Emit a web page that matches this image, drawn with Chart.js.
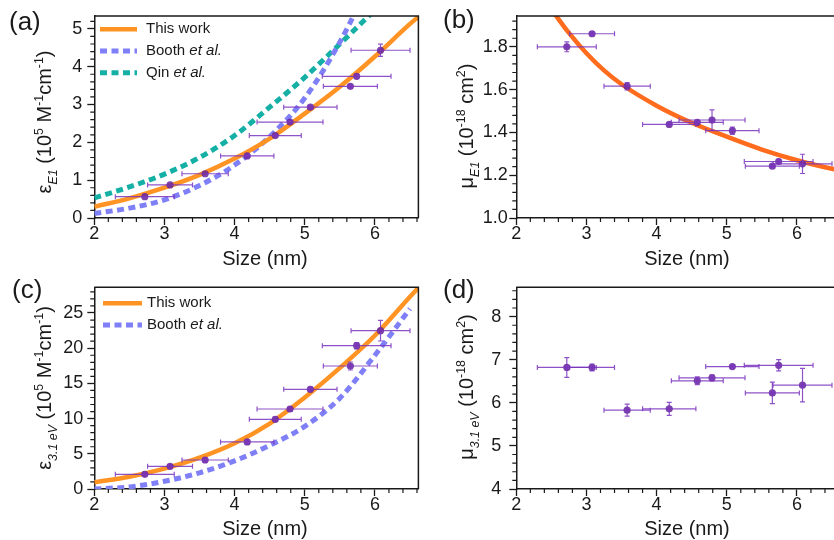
<!DOCTYPE html>
<html>
<head>
<meta charset="utf-8">
<script src="https://cdn.jsdelivr.net/npm/chart.js@4.4.1/dist/chart.umd.min.js"></script>
<style>
  html, body { margin: 0; padding: 0; background: #fff; overflow: hidden; }
  #wrap { position: relative; width: 834px; height: 540px; overflow: hidden; }
  #wrap canvas { position: absolute; }
</style>
</head>
<body>
<div id="wrap">
  <canvas id="cA" width="422" height="270" style="left:0;top:0"></canvas>
  <canvas id="cB" width="422" height="270" style="left:422px;top:0"></canvas>
  <canvas id="cC" width="422" height="270" style="left:0;top:270px"></canvas>
  <canvas id="cD" width="422" height="270" style="left:422px;top:270px"></canvas>
</div>
<script>
// ---- datos medidos (tamaño en nm, barras de error) ----
const sizeNm  = [2.72, 3.08, 3.58, 4.18, 4.58, 4.79, 5.08, 5.65, 5.74, 6.08];
const sizeErr = [0.42, 0.32, 0.33, 0.38, 0.37, 0.47, 0.38, 0.385, 0.49, 0.42];

const epsE1    = [0.565, 0.875, 1.17, 1.64, 2.18, 2.535, 2.93, 3.48, 3.745, 4.435];
const epsE1Err = [0.02, 0.02, 0.02, 0.03, 0.03, 0.03, 0.04, 0.04, 0.05, 0.16];
const muE1     = [1.80, 1.861, 1.616, 1.4375, 1.447, 1.458, 1.408, 1.242, 1.264, 1.253];
const muE1Err  = [0.023, 0.008, 0.017, 0.005, 0.008, 0.047, 0.017, 0.005, 0.01, 0.045];
const eps31    = [2.08, 3.22, 4.12, 6.68, 9.9, 11.36, 14.16, 17.47, 20.36, 22.49];
const eps31Err = [0.25, 0.25, 0.3, 0.3, 0.3, 0.3, 0.3, 0.57, 0.45, 1.47];
const mu31     = [6.82, 6.82, 5.83, 5.86, 6.51, 6.58, 6.84, 6.23, 6.87, 6.41];
const mu31Err  = [0.23, 0.08, 0.14, 0.15, 0.09, 0.07, 0.03, 0.25, 0.13, 0.39];

// ---- curvas ----
const fitE1X   = [2, 2.5, 3, 3.5, 4, 4.5, 5, 5.5, 6, 6.5, 6.62];
const fitE1Y   = [0.30, 0.52, 0.80, 1.14, 1.57, 2.10, 2.76, 3.47, 4.27, 5.13, 5.32];
const boothE1X = [2, 2.5, 3, 3.5, 4, 4.5, 5, 5.5, 6];
const boothE1Y = [0.12, 0.26, 0.48, 0.86, 1.40, 2.15, 3.17, 4.65, 6.5];
const qinE1X   = [2, 2.5, 3, 3.5, 4, 4.5, 5, 5.5, 6];
const qinE1Y   = [0.53, 0.82, 1.16, 1.60, 2.18, 2.93, 3.72, 4.60, 5.5];
const fitMuX   = [2.5, 2.75, 3, 3.25, 3.5, 4, 4.5, 5, 5.5, 6, 6.5, 6.62];
const fitMuY   = [1.975, 1.865, 1.77, 1.69, 1.625, 1.525, 1.445, 1.38, 1.32, 1.27, 1.23, 1.222];
const fit31X   = [2, 2.5, 3, 3.5, 4, 4.5, 5, 5.5, 6, 6.5, 6.62];
const fit31Y   = [0.95, 1.75, 2.9, 4.45, 6.5, 9.3, 13.0, 17.2, 21.8, 27.3, 28.6];
const booth31X = [2, 2.5, 3, 3.5, 4, 4.5, 5, 5.5, 6, 6.5];
const booth31Y = [0.0, 0.3, 1.1, 2.3, 4.0, 6.2, 8.9, 12.9, 19.0, 25.6];

// ---- marcas de los ejes ----
const xTicks  = [2, 3, 4, 5, 6];
const yTicksA = [0, 1, 2, 3, 4, 5];
const yTicksB = [1.0, 1.2, 1.4, 1.6, 1.8];
const yTicksC = [0, 5, 10, 15, 20, 25];
const yTicksD = [4, 5, 6, 7, 8];

const FONT = "'Liberation Sans', Arial, sans-serif";
const INK = '#1a1a1a';
const ORANGE = '#ff9424';
const ORANGE_B = '#ff6c1e';
const BLUE = '#7f7ff7';
const TEAL = '#14b0a5';

function pts(xs, ys) { return ys.map((y, i) => ({ x: xs[i], y })); }

function drawRich(ctx, parts, cx, cy, size, rot) {
  ctx.save();
  ctx.translate(cx, cy);
  if (rot) ctx.rotate(-Math.PI / 2);
  ctx.textAlign = 'left';
  ctx.textBaseline = 'alphabetic';
  ctx.fillStyle = INK;
  const fontFor = m => (m.indexOf('i') > 0 ? 'italic ' : '') + (m.startsWith('su') ? size * 0.62 : size) + 'px ' + FONT;
  let w = 0;
  parts.forEach(([t, m]) => { ctx.font = fontFor(m); w += ctx.measureText(t).width; });
  let x = -w / 2;
  const base = size * 0.36;
  parts.forEach(([t, m]) => {
    ctx.font = fontFor(m);
    const dy = m.startsWith('sub') ? size * 0.28 : m.startsWith('sup') ? -size * 0.4 : 0;
    ctx.fillText(t, x, base + dy);
    x += ctx.measureText(t).width;
  });
  ctx.restore();
}

function minorTicks(min, max, step, majors) {
  const out = [];
  for (let k = 0; ; k++) {
    const v = +(min + k * step).toFixed(6);
    if (v > max + 1e-9) break;
    if (!majors.some(m => Math.abs(m - v) < 1e-6)) out.push(v);
  }
  return out;
}

function decoPlugin(o) {
  return {
    id: 'deco',
    afterDatasetsDraw(chart) {
      const { ctx, chartArea: a, scales: { x, y } } = chart;
      ctx.save();
      ctx.beginPath();
      ctx.rect(a.left, a.top, a.right - a.left, a.bottom - a.top);
      ctx.clip();
      ctx.strokeStyle = 'rgba(122,52,190,0.85)';
      ctx.lineWidth = 1.2;
      sizeNm.forEach((sx, i) => {
        const px = x.getPixelForValue(sx), py = y.getPixelForValue(o.y[i]);
        const x0 = x.getPixelForValue(sx - sizeErr[i]), x1 = x.getPixelForValue(sx + sizeErr[i]);
        const y0 = y.getPixelForValue(o.y[i] - o.yErr[i]), y1 = y.getPixelForValue(o.y[i] + o.yErr[i]);
        ctx.beginPath();
        ctx.moveTo(x0, py); ctx.lineTo(x1, py);
        ctx.moveTo(x0, py - 2.5); ctx.lineTo(x0, py + 2.5);
        ctx.moveTo(x1, py - 2.5); ctx.lineTo(x1, py + 2.5);
        if (y0 - y1 > 2) {
          ctx.moveTo(px, y0); ctx.lineTo(px, y1);
          ctx.moveTo(px - 2.5, y0); ctx.lineTo(px + 2.5, y0);
          ctx.moveTo(px - 2.5, y1); ctx.lineTo(px + 2.5, y1);
        }
        ctx.stroke();
      });
      ctx.restore();
    },
    afterDraw(chart) {
      const { ctx, chartArea: a, scales: { x, y } } = chart;
      ctx.save();
      // marco superior y derecho
      ctx.strokeStyle = INK;
      ctx.lineWidth = 1.5;
      ctx.beginPath();
      ctx.moveTo(a.left, a.top); ctx.lineTo(a.right, a.top); ctx.lineTo(a.right, a.bottom);
      ctx.stroke();
      // marcas menores
      ctx.lineWidth = 1.2;
      ctx.beginPath();
      minorTicks(x.min, x.max, 0.2, xTicks).forEach(v => {
        const p = x.getPixelForValue(v);
        ctx.moveTo(p, a.bottom); ctx.lineTo(p, a.bottom + 4);
      });
      minorTicks(y.min, y.max, o.yMinor, o.yTicks).forEach(v => {
        const p = y.getPixelForValue(v);
        ctx.moveTo(a.left, p); ctx.lineTo(a.left - 4, p);
      });
      ctx.stroke();
      // etiqueta del panel
      ctx.fillStyle = INK;
      ctx.font = '26px ' + FONT;
      ctx.textAlign = 'left';
      ctx.textBaseline = 'alphabetic';
      ctx.fillText(o.tag, o.tagPos[0], o.tagPos[1]);
      // títulos de ejes
      drawRich(ctx, [['Size (nm)', '']], 265, 258, 20, false);
      drawRich(ctx, o.yTitle, 44, o.yTitleY, 20, true);
      // leyenda
      if (o.legend) {
        const L = o.legend;
        let row = 0;
        chart.data.datasets.forEach(ds => {
          if (!ds.inLegend) return;
          const ry = L.y + row * L.dy;
          ctx.strokeStyle = ds.borderColor;
          ctx.lineWidth = ds.borderWidth;
          ctx.setLineDash(ds.borderDash || []);
          ctx.beginPath(); ctx.moveTo(L.x0, ry); ctx.lineTo(L.x1, ry); ctx.stroke();
          ctx.setLineDash([]);
          ctx.fillStyle = INK;
          ctx.textBaseline = 'middle';
          let tx = L.tx;
          const k = ds.label.indexOf('et al.');
          const head = k >= 0 ? ds.label.slice(0, k) : ds.label;
          ctx.font = '15px ' + FONT;
          ctx.fillText(head, tx, ry);
          if (k >= 0) {
            tx += ctx.measureText(head).width;
            ctx.font = 'italic 15px ' + FONT;
            ctx.fillText('et al.', tx, ry);
          }
          row++;
        });
      }
      ctx.restore();
    }
  };
}

function panel(id, o) {
  const datasets = [{
    label: 'data',
    data: pts(sizeNm, o.y),
    showLine: false,
    pointRadius: 3.6,
    pointHoverRadius: 3.6,
    backgroundColor: 'rgba(100,34,158,0.85)',
    borderWidth: 0
  }];
  o.lines.forEach(l => datasets.push({
    label: l.label,
    data: pts(l.x, l.y),
    showLine: true,
    pointRadius: 0,
    borderColor: l.color,
    borderWidth: l.width,
    borderDash: l.dash || [],
    cubicInterpolationMode: 'monotone',
    inLegend: true
  }));
  return new Chart(document.getElementById(id), {
    type: 'scatter',
    data: { datasets },
    options: {
      responsive: false,
      animation: false,
      events: [],
      layout: { padding: { left: 0, top: o.top, right: 1.5, bottom: 0 } },
      plugins: { legend: { display: false }, tooltip: { enabled: false } },
      scales: {
        x: {
          type: 'linear', min: 2, max: 6.62,
          afterBuildTicks: s => { s.ticks = xTicks.map(v => ({ value: v })); },
          afterFit: s => { s.height = 270 - o.bottom; s.paddingLeft = 0; s.paddingRight = 0; },
          border: { display: true, color: INK, width: 1.5 },
          grid: { drawOnChartArea: false, drawTicks: true, tickLength: 7, tickColor: INK, tickWidth: 1.3 },
          ticks: { color: INK, padding: 0, font: { family: FONT, size: 18, lineHeight: 1 }, maxRotation: 0 }
        },
        y: {
          type: 'linear', min: o.yMin, max: o.yMax,
          afterBuildTicks: s => { s.ticks = o.yTicks.map(v => ({ value: v })); },
          afterFit: s => { s.width = 94.3; s.paddingTop = 0; s.paddingBottom = 0; },
          border: { display: true, color: INK, width: 1.5 },
          grid: { drawOnChartArea: false, drawTicks: true, tickLength: 7, tickColor: INK, tickWidth: 1.3 },
          ticks: {
            color: INK, padding: o.yPad, font: { family: FONT, size: 18, lineHeight: 1 },
            callback: v => o.yFmt ? v.toFixed(o.yFmt) : String(v)
          }
        }
      }
    },
    plugins: [decoPlugin(o)]
  });
}

const tituloEps = sub => [['ε', ''], [sub, 'subi'], [' (10', ''], ['5', 'sup'], [' M', ''], ['-1', 'sup'], ['cm', ''], ['-1', 'sup'], [')', '']];
const tituloMu = sub => [['μ', ''], [sub, 'subi'], [' (10', ''], ['-18', 'sup'], [' cm', ''], ['2', 'sup'], [')', '']];

panel('cA', {
  y: epsE1, yErr: epsE1Err, yMin: 0, yMax: 5.34, yTicks: yTicksA, yMinor: 0.2, yPad: 5,
  top: 16, bottom: 218, tag: '(a)', tagPos: [9, 30], yTitle: tituloEps('E1'), yTitleY: 122,
  legend: { x0: 100, x1: 137, tx: 146, y: 29.3, dy: 21.7 },
  lines: [
    { label: 'This work', x: fitE1X, y: fitE1Y, color: ORANGE, width: 4.5 },
    { label: 'Booth et al.', x: boothE1X, y: boothE1Y, color: BLUE, width: 5, dash: [7, 4.5] },
    { label: 'Qin et al.', x: qinE1X, y: qinE1Y, color: TEAL, width: 5, dash: [7, 4.5] }
  ]
});

panel('cB', {
  y: muE1, yErr: muE1Err, yMin: 1.0, yMax: 1.944, yTicks: yTicksB, yMinor: 0.04, yPad: 1.5, yFmt: 1,
  top: 16, bottom: 218, tag: '(b)', tagPos: [21, 28], yTitle: tituloMu('E1'), yTitleY: 126,
  lines: [
    { label: 'This work', x: fitMuX, y: fitMuY, color: ORANGE_B, width: 4.5 }
  ]
});

panel('cC', {
  y: eps31, yErr: eps31Err, yMin: 0, yMax: 28.65, yTicks: yTicksC, yMinor: 1, yPad: 4,
  top: 17.3, bottom: 219, tag: '(c)', tagPos: [12, 27.5], yTitle: tituloEps('3.1 eV'), yTitleY: 118,
  legend: { x0: 103, x1: 142, tx: 147, y: 33.3, dy: 21.7 },
  lines: [
    { label: 'This work', x: fit31X, y: fit31Y, color: ORANGE, width: 4.5 },
    { label: 'Booth et al.', x: booth31X, y: booth31Y, color: BLUE, width: 5, dash: [7, 4.5] }
  ]
});

panel('cD', {
  y: mu31, yErr: mu31Err, yMin: 4, yMax: 8.68, yTicks: yTicksD, yMinor: 0.2, yPad: 8,
  top: 17.3, bottom: 219, tag: '(d)', tagPos: [21, 27.5], yTitle: tituloMu('3.1 eV'), yTitleY: 117,
  lines: []
});
</script>
</body>
</html>
